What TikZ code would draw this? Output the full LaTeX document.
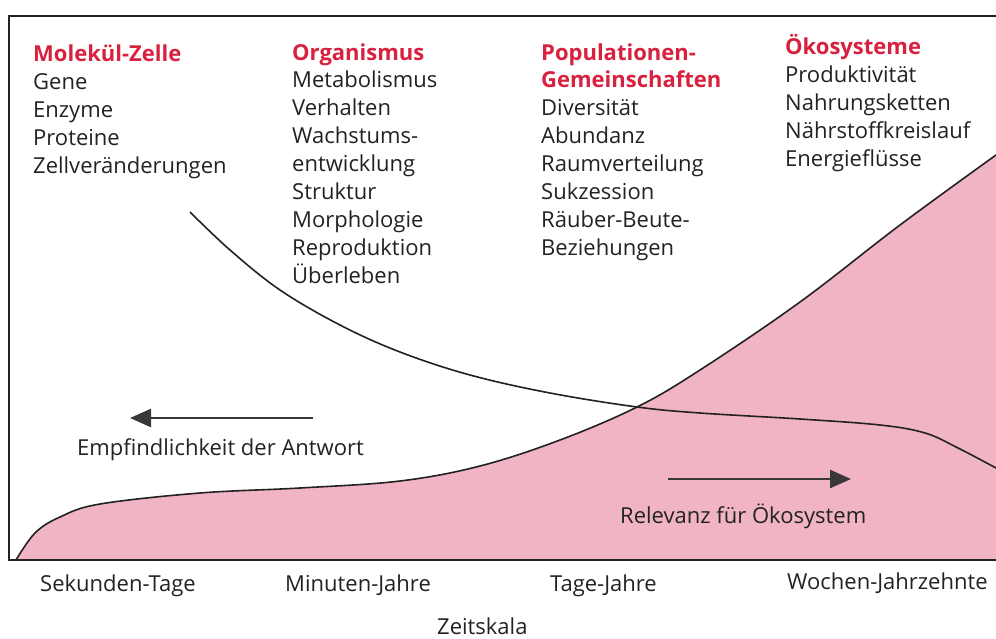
\documentclass[tikz,border=0pt]{standalone}
\usepackage{fontspec}
\setmainfont{Open Sans}
\usetikzlibrary{arrows.meta}
\definecolor{hred}{HTML}{D8203F}
\definecolor{pinkfill}{HTML}{F1B4C4}
\definecolor{ink}{HTML}{222222}
\tikzset{
  col/.style={anchor=base west, align=left, inner sep=0pt, text=ink,
    font=\fontsize{22}{27.9}\selectfont},
  lbl/.style={anchor=base west, inner sep=0pt, text=ink, font=\fontsize{22}{24}\selectfont},
  frame/.style={draw=ink, line width=1.2pt},
  curve/.style={draw=ink, line width=1.6pt},
  bigarrow/.style={draw=ink!90, line width=2.4pt, -{Triangle[length=21pt,width=18pt]}}
}
\newcommand{\hd}[1]{{\color{hred}\bfseries #1}}
\begin{document}
\begin{tikzpicture}[x=1pt,y=-1pt]
\useasboundingbox (0,0) rectangle (996,639);
% pink area
\fill[pinkfill] (16,560) -- plot[smooth, tension=0.6] coordinates {(16,560) (35,533) (60,517) (100,504) (200,493) (300,488) (400,481) (480,466) (560,440) (637,407) (700,370) (800,302) (900,225) (996,155)} -- (996,560) -- cycle;
\draw[curve] plot[smooth, tension=0.6] coordinates {(16,560) (35,533) (60,517) (100,504) (200,493) (300,488) (400,481) (480,466) (560,440) (637,407) (700,370) (800,302) (900,225) (996,155)};
\draw[curve] plot[smooth, tension=0.6] coordinates {(190,212) (230,250) (280,290) (340,325) (400,352) (470,375) (550,393) (637,407) (700,413) (800,419) (880,425) (925,433) (958,448) (996,468)};
% frame
\draw[frame] (996,16) -- (9,16) -- (9,560) -- (996,560);
% columns (anchor = baseline of the last line)
\node[col] (c1) at (33,173.6) {\hd{Molekül-Zelle}\\Gene\\Enzyme\\Proteine\\Zellveränderungen};
\node[col] (c2) at (292,283.2) {\hd{Organismus}\\Metabolismus\\Verhalten\\Wachstums-\\entwicklung\\Struktur\\Morphologie\\Reproduktion\\Überleben};
\node[col] (c3) at (541,255.3) {\hd{Populationen-}\\\hd{Gemeinschaften}\\Diversität\\Abundanz\\Raumverteilung\\Sukzession\\Räuber-Beute-\\Beziehungen};
\node[col] (c4) at (785,166.6) {\hd{Ökosysteme}\\Produktivität\\Nahrungsketten\\Nährstoffkreislauf\\Energieflüsse};
% arrows
\coordinate (a1s) at (313,418);
\coordinate (a1e) at (130,418);
\draw[bigarrow] (a1s) -- (a1e);
\node[lbl] (empf) at (77,455) {Empfindlichkeit der Antwort};
\coordinate (a2s) at (668,479);
\coordinate (a2e) at (851,479);
\draw[bigarrow] (a2s) -- (a2e);
\node[lbl] (rel) at (620,523) {Relevanz für Ökosystem};
% axis labels
\node[lbl] (t1) at (40,591) {Sekunden-Tage};
\node[lbl] (t2) at (285,591) {Minuten-Jahre};
\node[lbl] (t3) at (550,591) {Tage-Jahre};
\node[lbl] (t4) at (787,589) {Wochen-Jahrzehnte};
\node[lbl] (zs) at (437,634) {Zeitskala};
\end{tikzpicture}
\end{document}
